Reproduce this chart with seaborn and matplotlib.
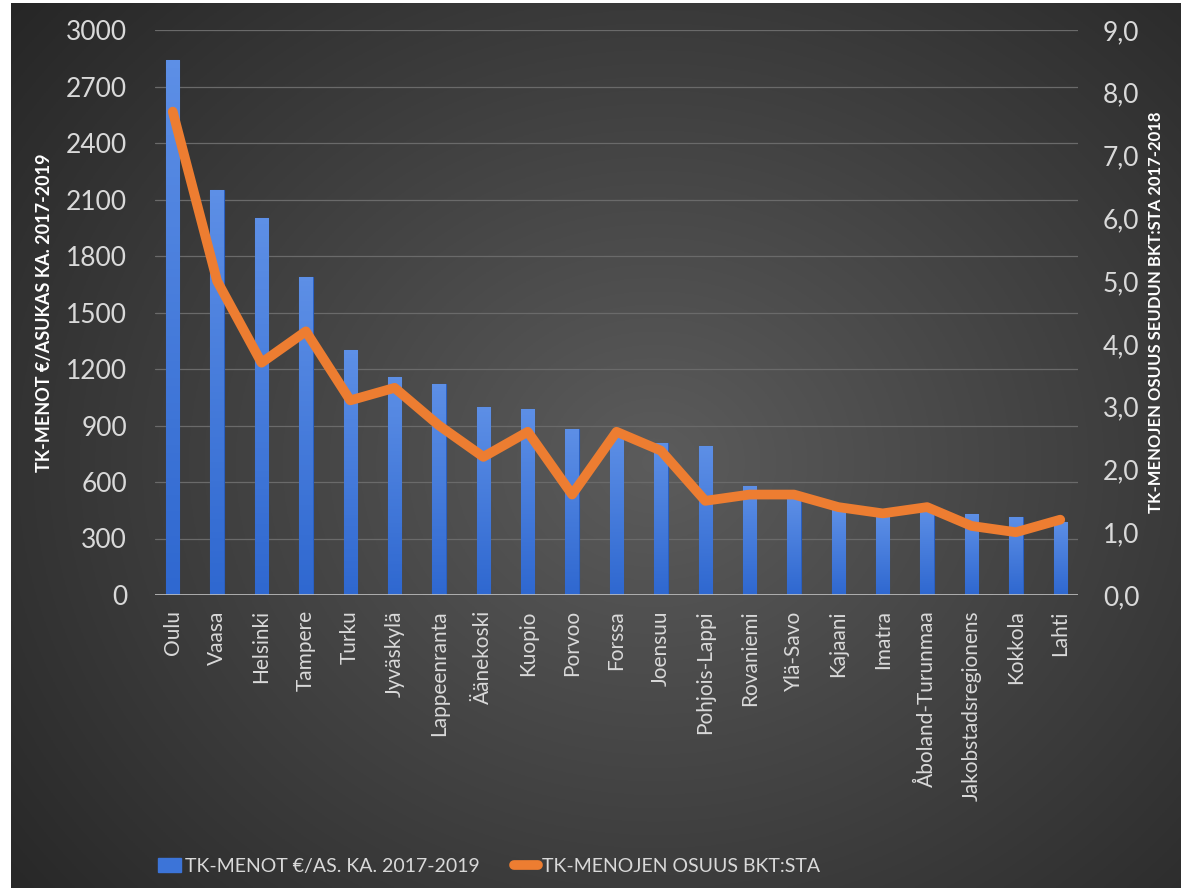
import numpy as np
import pandas as pd
import seaborn as sns
import matplotlib.pyplot as plt
from matplotlib.lines import Line2D
from matplotlib.patches import Patch

# data
regions = ["Oulu", "Vaasa", "Helsinki", "Tampere", "Turku", "Jyväskylä",
           "Lappeenranta", "Äänekoski", "Kuopio", "Porvoo", "Forssa", "Joensuu",
           "Pohjois-Lappi", "Rovaniemi", "Ylä-Savo", "Kajaani", "Imatra",
           "Åboland-Turunmaa", "Jakobstadsregionens", "Kokkola", "Lahti"]
menot = [2840, 2150, 2000, 1690, 1300, 1160, 1120, 1000, 985, 880, 850, 805,
         790, 580, 520, 450, 420, 460, 430, 415, 390]
osuus = [7.7, 5.0, 3.7, 4.2, 3.1, 3.3, 2.7, 2.2, 2.6, 1.6, 2.6, 2.3,
         1.5, 1.6, 1.6, 1.4, 1.3, 1.4, 1.1, 1.0, 1.2]
left_ticks = [0, 300, 600, 900, 1200, 1500, 1800, 2100, 2400, 2700, 3000]
right_ticks = [0, 1, 2, 3, 4, 5, 6, 7, 8, 9]

df = pd.DataFrame({"alue": regions, "menot": menot, "osuus": osuus})

sns.set_style("dark")
plt.rcParams['font.family'] = ['Lato', 'DejaVu Sans']
txt = '#d9d9d9'
blue = '#3c74d8'
orange = '#ed7d31'

fig = plt.figure(figsize=(11.81, 8.88), dpi=100)
fig.patch.set_facecolor('white')

# taustan säteittäinen liukuväri
bg = fig.add_axes([11/1181, 0, 1 - 11/1181, 1 - 3/888], zorder=-5)
yy, xx = np.mgrid[0:1:400j, 0:1:500j]
r = np.sqrt(((xx - 0.55) / 0.75) ** 2 + ((yy - 0.52) / 0.85) ** 2)
g = np.clip(0.36 - 0.22 * r, 0.11, 0.36)
bg.imshow(np.dstack([g, g, g]), aspect='auto', extent=[0, 1, 0, 1])
bg.set_axis_off()

ax = fig.add_axes([155/1181, (888-595)/888, (1078-155)/1181, (595-30)/888])
ax.set_facecolor('none')
sns.barplot(data=df, x="alue", y="menot", color=blue, width=0.3,
            saturation=1, edgecolor='#2a5fbf', linewidth=0.8, ax=ax, zorder=2)
ax.set_ylim(0, 3000)
ax.set_xlim(-0.4, len(regions) - 0.6)

# pylväiden pystysuuntainen liukuväri
grad = np.linspace(0, 1, 64).reshape(-1, 1)
cm = plt.matplotlib.colors.LinearSegmentedColormap.from_list('b', ['#5d8fe6', '#2f68d0'])
for p in list(ax.patches):
    x0, y0 = p.get_x(), p.get_y()
    im = ax.imshow(grad, cmap=cm, aspect='auto', zorder=2.5,
                   extent=[x0, x0 + p.get_width(), y0, y0 + p.get_height()])
    im.set_clip_path(p)
ax.set_ylim(0, 3000)
ax.set_xlim(-0.4, len(regions) - 0.6)

ax.set_yticks(left_ticks)
ax.grid(axis='y', color='#6a6a6a', linewidth=0.9, zorder=0)
ax.set_axisbelow(True)
for s in ax.spines.values():
    s.set_visible(False)
ax.axhline(0, color='#bfbfbf', linewidth=1.2, zorder=3)
ax.tick_params(axis='y', colors=txt, labelsize=19, length=0, pad=20)
ax.tick_params(axis='x', colors=txt, labelsize=15, length=0, pad=11)
plt.setp(ax.get_xticklabels(), rotation=90)
ax.set_xlabel("")
ax.set_ylabel("TK-MENOT €/ASUKAS KA. 2017-2019", color='white', fontsize=13,
              fontweight='bold', labelpad=9)

ax2 = ax.twinx()
sns.lineplot(x=np.arange(len(regions)), y=osuus, color=orange, linewidth=7,
             solid_joinstyle='round', solid_capstyle='round', ax=ax2, zorder=4)
ax2.set_ylim(0, 9)
ax2.set_yticks(right_ticks)
ax2.set_yticklabels([f"{v:.1f}".replace('.', ',') for v in right_ticks])
ax2.tick_params(axis='y', colors=txt, labelsize=19, length=0, pad=18)
for s in ax2.spines.values():
    s.set_visible(False)
ax2.grid(False)
ax2.set_ylabel("TK-MENOJEN OSUUS SEUDUN BKT:STA 2017-2018", color='white',
               fontsize=12, fontweight='bold', labelpad=6)

handles = [Patch(facecolor=blue, edgecolor=blue),
           Line2D([0], [0], color=orange, linewidth=7, solid_capstyle='round')]
fig.legend(handles, ["TK-MENOT €/AS. KA. 2017-2019", "TK-MENOJEN OSUUS BKT:STA"],
           loc='center left', bbox_to_anchor=(140/1181, 1 - 866/888), ncol=2,
           frameon=False, labelcolor=txt, handlelength=1.2, handletextpad=0.2,
           columnspacing=1.8, fontsize=14)

fig.savefig("out.png", dpi=100)
